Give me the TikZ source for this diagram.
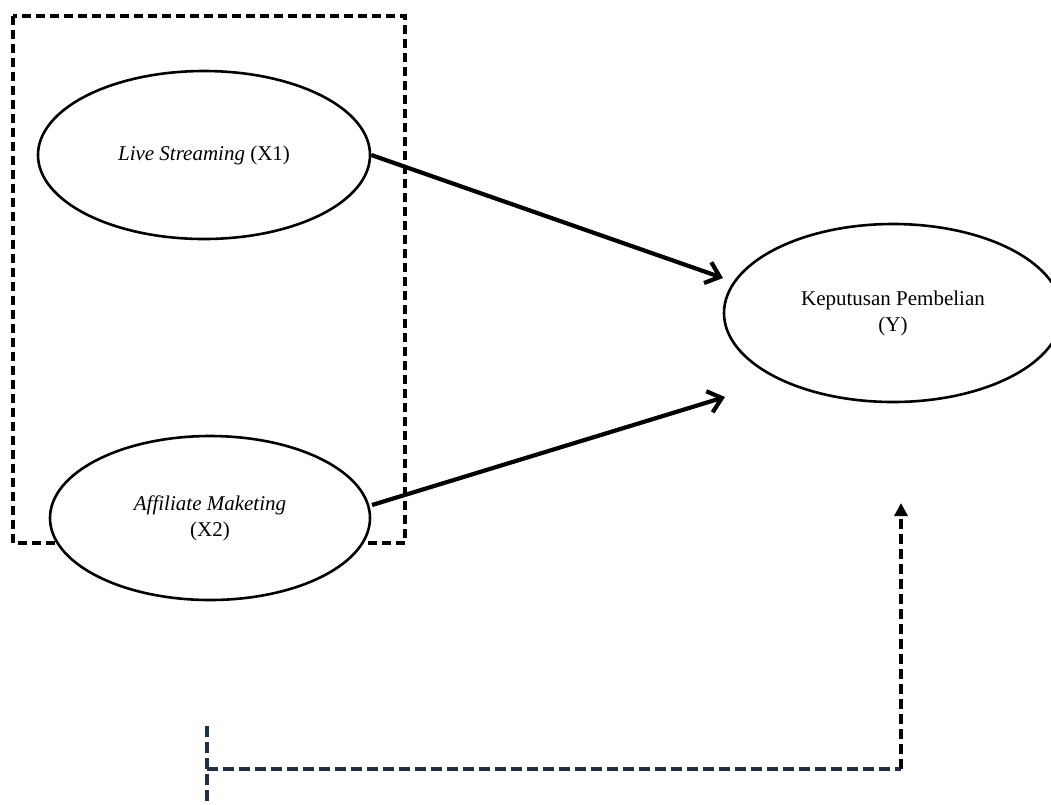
\documentclass[tikz,border=0pt]{standalone}
\usepackage{fontspec}
\setmainfont{Liberation Serif}
\usetikzlibrary{shapes.geometric,arrows.meta}
\definecolor{navy}{HTML}{1F2E4A}
\tikzset{
  var/.style={draw, ellipse, line width=2.6pt, inner sep=0pt, align=center, fill=white,
    font=\fontsize{21}{26}\selectfont},
  path/.style={line width=4.2pt, -{Straight Barb[length=13pt,width=22pt,line width=4.2pt]}},
  groupbox/.style={draw, line width=4pt, dash pattern=on 9pt off 5pt},
  navydash/.style={draw=navy, line width=3.8pt, dash pattern=on 11pt off 5pt},
  blackdash/.style={draw=black, line width=3.8pt, dash pattern=on 10pt off 5pt},
}
\begin{document}
\begin{tikzpicture}[x=1pt,y=-1pt]
\useasboundingbox (0,0) rectangle (1051,804);
\clip (0,0) rectangle (1051,804);
% group box
\draw[groupbox] (13,16) rectangle (405,543);
% variables
\node[var, minimum width=332pt, minimum height=168pt] (x1) at (204,155) {\textit{Live Streaming} (X1)};
\node[var, minimum width=320pt, minimum height=164pt] (x2) at (210,518) {\textit{Affiliate Maketing}\\(X2)};
\node[var, minimum width=338pt, minimum height=178pt] (y) at (893,313) {Keputusan Pembelian\\(Y)};
% arrow ends
\coordinate (t1) at (723,278);
\coordinate (t2) at (725,397);
\coordinate (s2) at (372,505);
\draw[path] (x1.east) -- (t1);
\draw[path] (s2) -- (t2);
% bottom connector
\coordinate (c0) at (207,726);
\coordinate (c1) at (207,804);
\coordinate (c2) at (207,769);
\coordinate (c3) at (901,769);
\coordinate (c4) at (901,503);
\draw[navydash] (c0) -- (c1);
\draw[navydash] (c2) -- (c3);
\draw[blackdash, -{Triangle[length=13pt,width=13pt]}] (c3) -- (c4);
\end{tikzpicture}
\end{document}
